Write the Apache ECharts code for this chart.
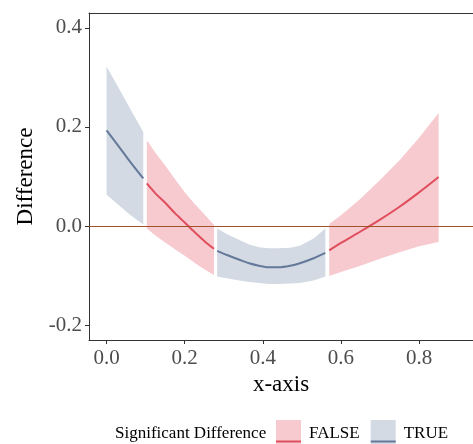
<!DOCTYPE html>
<html style="height: 100%">
<head>
    <meta charset="utf-8">
</head>
<body style="height: 100%; margin: 0; background: #fff">
<div id="container" style="width: 473px; height: 444px"></div>
<script type="text/javascript" src="https://cdn.jsdelivr.net/npm/echarts@6/dist/echarts.min.js"></script>
<script type="text/javascript">
    // segments of the fitted curve, split where the significance flag changes
    var groups = ['TRUE', 'FALSE', 'TRUE', 'FALSE'];

    var xA = [0.000, 0.030, 0.060, 0.094];
    var fitA = [0.193, 0.162, 0.130, 0.096];
    var loA = [0.063, 0.043, 0.023, 0.003];
    var hiA = [0.322, 0.280, 0.237, 0.190];

    var xB = [0.103, 0.125, 0.150, 0.175, 0.200, 0.225, 0.250, 0.275];
    var fitB = [0.086, 0.066, 0.047, 0.026, 0.007, -0.012, -0.030, -0.046];
    var loB = [-0.005, -0.019, -0.033, -0.047, -0.060, -0.074, -0.087, -0.099];
    var hiB = [0.173, 0.148, 0.122, 0.095, 0.068, 0.045, 0.024, 0.002];

    var xC = [0.283, 0.310, 0.340, 0.365, 0.390, 0.415, 0.440, 0.470, 0.495, 0.530, 0.560];
    var fitC = [-0.050, -0.059, -0.068, -0.075, -0.080, -0.083, -0.083, -0.080, -0.075, -0.065, -0.054];
    var loC = [-0.102, -0.106, -0.110, -0.113, -0.115, -0.117, -0.117, -0.116, -0.115, -0.110, -0.102];
    var hiC = [-0.005, -0.017, -0.028, -0.037, -0.043, -0.045, -0.045, -0.044, -0.040, -0.025, -0.005];

    var xD = [0.570, 0.600, 0.650, 0.700, 0.750, 0.800, 0.850];
    var fitD = [-0.049, -0.034, -0.011, 0.013, 0.039, 0.068, 0.099];
    var loD = [-0.101, -0.093, -0.080, -0.066, -0.053, -0.041, -0.032];
    var hiD = [0.004, 0.022, 0.055, 0.093, 0.133, 0.178, 0.228];

    var xTicks = [0, 0.2, 0.4, 0.6, 0.8];
    var yTicks = [-0.2, 0, 0.2, 0.4];

    var serif = 'Liberation Serif';
    var fillCol = {'FALSE': '#F6CACE', 'TRUE': '#D3DAE3'};
    var lineCol = {'FALSE': '#E04D5C', 'TRUE': '#64789A'};

    function ribbon(name, xs, lo, hi) {
        return {
            name: name,
            type: 'custom',
            silent: true,
            z: 1,
            encode: {x: 0, y: [1, 2]},
            data: xs.map(function (x, i) { return [x, lo[i], hi[i]]; }),
            renderItem: function (params, api) {
                if (params.dataIndex !== 0) return;
                var pts = [];
                for (var i = 0; i < xs.length; i++) pts.push(api.coord([xs[i], hi[i]]));
                for (var j = xs.length - 1; j >= 0; j--) pts.push(api.coord([xs[j], lo[j]]));
                return {type: 'polygon', shape: {points: pts}, style: {fill: fillCol[name]}};
            }
        };
    }

    function fitLine(name, xs, fit) {
        return {
            name: name,
            type: 'line',
            symbol: 'none',
            smooth: 0.3,
            z: 3,
            silent: true,
            lineStyle: {color: lineCol[name], width: 2},
            itemStyle: {color: lineCol[name]},
            data: xs.map(function (x, i) { return [x, fit[i]]; })
        };
    }

    var segs = [[xA, fitA, loA, hiA], [xB, fitB, loB, hiB], [xC, fitC, loC, hiC], [xD, fitD, loD, hiD]];
    var series = [];
    segs.forEach(function (s, k) {
        series.push(ribbon(groups[k], s[0], s[2], s[3]));
    });
    // zero reference line
    series.push({
        type: 'line', data: [], z: 2, silent: true,
        markLine: {
            symbol: 'none', silent: true, label: {show: false},
            lineStyle: {color: '#A0522D', width: 1, type: 'solid'},
            data: [{yAxis: 0}]
        }
    });
    segs.forEach(function (s, k) {
        series.push(fitLine(groups[k], s[0], s[1]));
    });

    var fmt = function (v) { return v.toFixed(1); };

    var myChart = echarts.init(document.getElementById('container'));
    var option = {
        animation: false,
        grid: {left: 89, right: 0, top: 13, bottom: 104, containLabel: false, outerBoundsMode: 'none'},
        xAxis: [{
            type: 'value', min: -0.045, max: 0.938, position: 'bottom',
            name: 'x-axis', nameLocation: 'middle', nameGap: 32,
            nameTextStyle: {fontFamily: serif, fontSize: 23, color: '#000'},
            axisLine: {show: true, onZero: false, lineStyle: {color: '#333', width: 1}},
            axisTick: {show: true, length: 4, customValues: xTicks, lineStyle: {color: '#333'}},
            axisLabel: {customValues: xTicks, formatter: fmt, margin: 8, fontFamily: serif, fontSize: 21, color: '#4D4D4D'},
            splitLine: {show: false}
        }, {
            type: 'value', min: -0.045, max: 0.938, position: 'top',
            axisLine: {show: true, onZero: false, lineStyle: {color: '#333', width: 1}},
            axisTick: {show: false}, axisLabel: {show: false}, splitLine: {show: false}
        }],
        yAxis: {
            type: 'value', min: -0.23, max: 0.43,
            name: 'Difference', nameLocation: 'middle', nameRotate: 90, nameGap: 51,
            nameTextStyle: {fontFamily: serif, fontSize: 23, color: '#000'},
            axisLine: {show: true, onZero: false, lineStyle: {color: '#333', width: 1}},
            axisTick: {show: true, length: 4, customValues: yTicks, lineStyle: {color: '#333'}},
            axisLabel: {customValues: yTicks, formatter: fmt, margin: 7, fontFamily: serif, fontSize: 21, color: '#4D4D4D'},
            splitLine: {show: false}
        },
        legend: [{
            left: 276, top: 420, padding: 0, itemWidth: 25, itemHeight: 28, itemGap: 11,
            selectedMode: false,
            textStyle: {fontFamily: serif, fontSize: 17, color: '#000', padding: [0, 0, 0, 3]},
            data: [
                {name: 'FALSE', icon: 'rect', itemStyle: {color: fillCol['FALSE']}},
                {name: 'TRUE', icon: 'rect', itemStyle: {color: fillCol['TRUE']}}
            ]
        }, {
            left: 276, top: 433, padding: 0, itemWidth: 25, itemHeight: 2, itemGap: 11,
            selectedMode: false,
            textStyle: {fontFamily: serif, fontSize: 17, lineHeight: 2, color: 'rgba(0,0,0,0)', padding: [0, 0, 0, 3]},
            data: [
                {name: 'FALSE', icon: 'rect', itemStyle: {color: lineCol['FALSE']}},
                {name: 'TRUE', icon: 'rect', itemStyle: {color: lineCol['TRUE']}}
            ]
        }],
        graphic: [{
            type: 'text', x: 115, y: 434,
            style: {text: 'Significant Difference', font: '17px "Liberation Serif"', fill: '#000', verticalAlign: 'middle'}
        }],
        series: series
    };
    myChart.setOption(option);
</script>
</body>
</html>
